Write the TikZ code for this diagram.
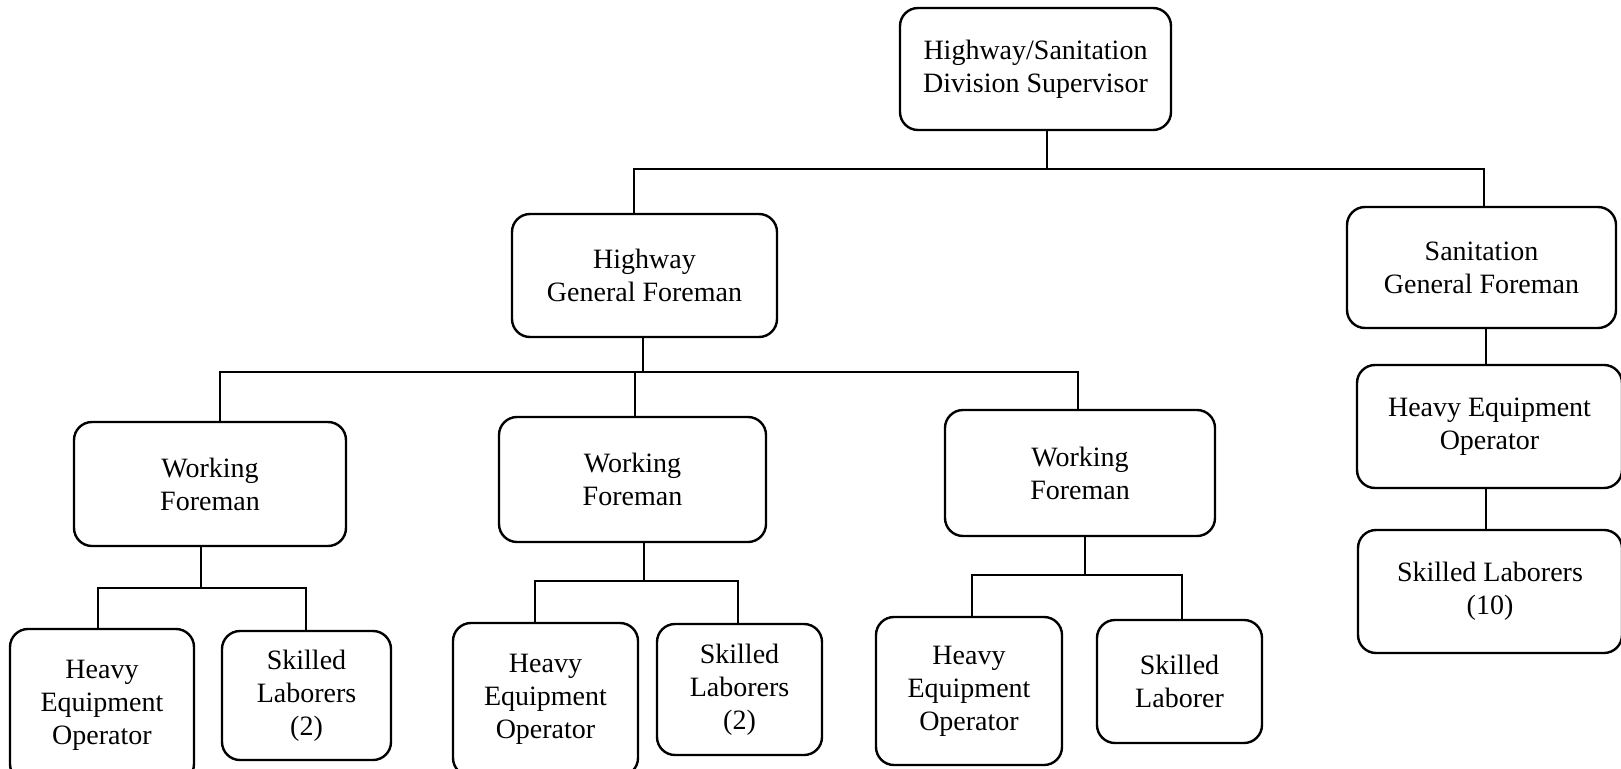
\documentclass[tikz,border=0pt]{standalone}
\usepackage{fontspec}
\setmainfont{Liberation Serif}
\begin{document}
\begin{tikzpicture}[x=1pt,y=-1pt,
  box/.style={draw, line width=2.4pt, rounded corners=18pt, align=center,
    inner sep=0pt, font=\fontsize{28}{33}\selectfont},
  link/.style={line width=2.2pt}]
\useasboundingbox (0,0) rectangle (1621,768);
\fill[white] (0,0) rectangle (1621,768);
\clip (0,0) rectangle (1621,768);
% boxes
\node[box, minimum width=271pt, minimum height=122pt] (top) at (1035.5,69) {Highway/Sanitation\\Division Supervisor};
\node[box, minimum width=265pt, minimum height=123pt] (hgf) at (644.5,275.5) {Highway\\General Foreman};
\node[box, minimum width=269pt, minimum height=121pt] (sgf) at (1481.5,267.5) {Sanitation\\General Foreman};
\node[box, minimum width=272pt, minimum height=124pt] (wf1) at (210,484) {Working\\Foreman};
\node[box, minimum width=267pt, minimum height=125pt] (wf2) at (632.5,479.5) {Working\\Foreman};
\node[box, minimum width=270pt, minimum height=126pt] (wf3) at (1080,473) {Working\\Foreman};
\node[box, minimum width=184pt, minimum height=153pt] (heo1) at (102,705.5) {Heavy\\Equipment\\Operator};
\node[box, minimum width=169pt, minimum height=129pt] (sl1) at (306.5,695.5) {Skilled\\Laborers\\(2)};
\node[box, minimum width=185pt, minimum height=153pt] (heo2) at (545.5,699.5) {Heavy\\Equipment\\Operator};
\node[box, minimum width=165pt, minimum height=131pt] (sl2) at (739.5,689.5) {Skilled\\Laborers\\(2)};
\node[box, minimum width=186pt, minimum height=148pt] (heo3) at (969,691) {Heavy\\Equipment\\Operator};
\node[box, minimum width=165pt, minimum height=123pt] (sl3) at (1179.5,681.5) {Skilled\\Laborer};
\node[box, minimum width=265pt, minimum height=123pt] (heo4) at (1489.5,426.5) {Heavy Equipment\\Operator};
\node[box, minimum width=264pt, minimum height=123pt] (sl4) at (1490,591.5) {Skilled Laborers\\(10)};
% junction points
\coordinate (a0) at (1047,169);
\coordinate (a1) at (634,169);
\coordinate (a2) at (1484,169);
\coordinate (b0) at (643,372);
\coordinate (b1) at (220,372);
\coordinate (b2) at (635,372);
\coordinate (b3) at (1078,372);
\coordinate (c0) at (201,588);
\coordinate (c1) at (98,588);
\coordinate (c2) at (306,588);
\coordinate (d0) at (644,581);
\coordinate (d1) at (535,581);
\coordinate (d2) at (738,581);
\coordinate (e0) at (1085,575);
\coordinate (e1) at (972,575);
\coordinate (e2) at (1182,575);
\coordinate (f0) at (1486,0);
% connectors
\draw[link] (top.south -| a0) -- (a0);
\draw[link] (hgf.north -| a1) -- (a1) -- (a2) -- (sgf.north -| a2);
\draw[link] (hgf.south -| b0) -- (b0);
\draw[link] (wf1.north -| b1) -- (b1) -- (b3) -- (wf3.north -| b3);
\draw[link] (b2) -- (wf2.north -| b2);
\draw[link] (wf1.south -| c0) -- (c0);
\draw[link] (heo1.north -| c1) -- (c1) -- (c2) -- (sl1.north -| c2);
\draw[link] (wf2.south -| d0) -- (d0);
\draw[link] (heo2.north -| d1) -- (d1) -- (d2) -- (sl2.north -| d2);
\draw[link] (wf3.south -| e0) -- (e0);
\draw[link] (heo3.north -| e1) -- (e1) -- (e2) -- (sl3.north -| e2);
\draw[link] (sgf.south -| f0) -- (heo4.north -| f0);
\draw[link] (heo4.south -| f0) -- (sl4.north -| f0);
\end{tikzpicture}
\end{document}
